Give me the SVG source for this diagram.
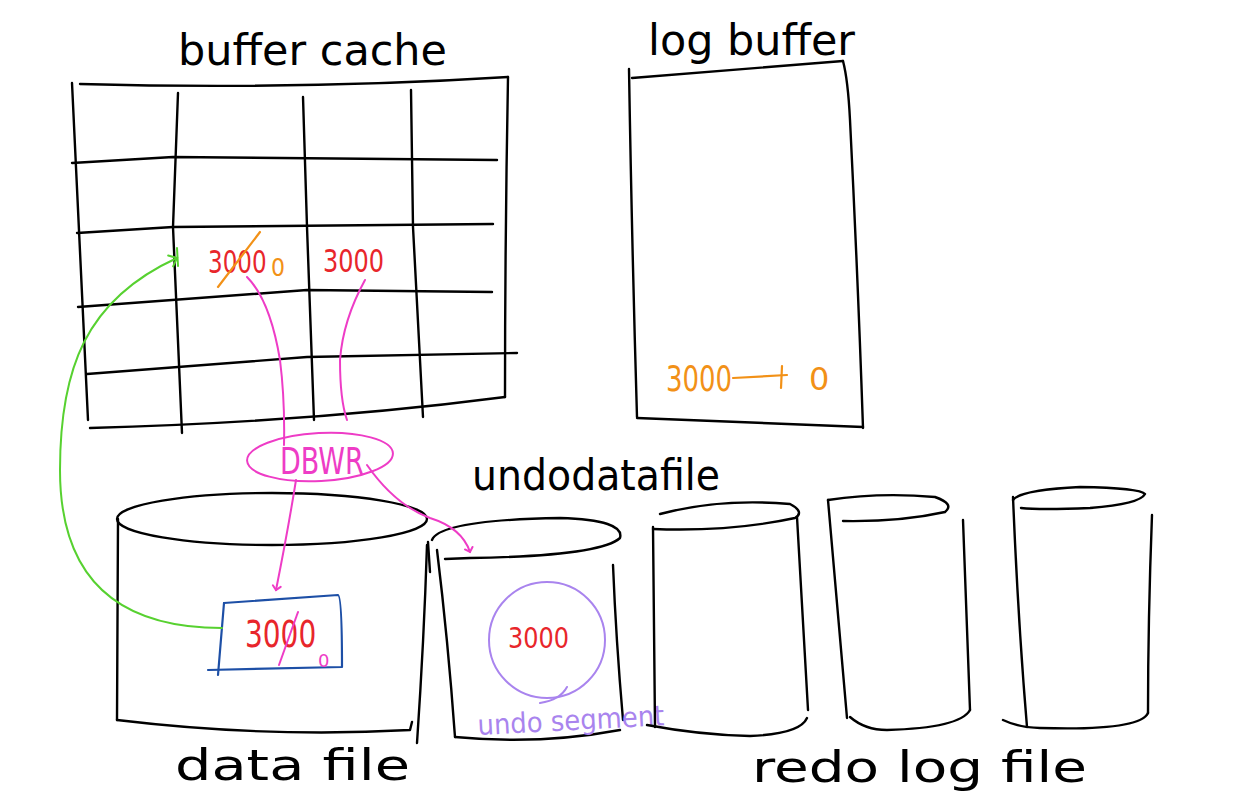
<svg xmlns="http://www.w3.org/2000/svg" width="1253" height="809" viewBox="0 0 1253 809">
<defs>
<style>
.ink{fill:none;stroke:#000;stroke-width:2.4;stroke-linecap:round;stroke-linejoin:round}
.pk{fill:none;stroke:#ee3cc6;stroke-width:2;stroke-linecap:round}
.gr{fill:none;stroke:#57d130;stroke-width:2;stroke-linecap:round}
.or{fill:none;stroke:#f29117;stroke-width:2.2;stroke-linecap:round}
.bl{fill:none;stroke:#1d4fa6;stroke-width:2.2;stroke-linecap:round;stroke-linejoin:round}
.pu{fill:none;stroke:#a984ee;stroke-width:2;stroke-linecap:round}
text{font-family:"DejaVu Sans","Liberation Sans",sans-serif;font-weight:normal}
.lbl{fill:#000;font-size:42px}
.red{fill:#e8262b}
.orange{fill:#f29117}
.pink{fill:#ee3cc6}
.purple{fill:#a984ee}
</style>
<marker id="tick" markerWidth="12" markerHeight="12" refX="6" refY="6" orient="auto" markerUnits="userSpaceOnUse">
<path d="M2,2 L6,6 L2,10" fill="none" stroke="#ee3cc6" stroke-width="2" stroke-linecap="round"/>
</marker>
<marker id="gtick" markerWidth="16" markerHeight="16" refX="10" refY="8" orient="auto" markerUnits="userSpaceOnUse">
<path d="M3,2 L10,8 L3,14" fill="none" stroke="#57d130" stroke-width="2" stroke-linecap="round"/>
</marker>
</defs>
<rect width="1253" height="809" fill="#fff"/>

<g id="buffer-cache">
<path class="ink" d="M80,84 Q300,90 508,77"/>
<path class="ink" d="M72,83 Q80,250 88,420"/>
<path class="ink" d="M508,77 Q505,240 505,397"/>
<path class="ink" d="M90,428 Q313,422 505,397"/>
<path class="ink" d="M72,163 L173,157 L497,160"/>
<path class="ink" d="M77,233 L173,227 L493,224"/>
<path class="ink" d="M78,307 L307,290 L492,292"/>
<path class="ink" d="M87,374 L307,357 L517,353"/>
<path class="ink" d="M178,93 L173,227 L182,433"/>
<path class="ink" d="M303,97 L307,227 L314,420"/>
<path class="ink" d="M411,90 L413,227 L423,417"/>
<text class="lbl" x="178" y="65" textLength="269" lengthAdjust="spacingAndGlyphs">buffer cache</text>
<text class="red" font-size="23" transform="translate(208,273) scale(1,1.4)">3000</text>
<path class="or" d="M218,287 L260,232"/>
<text class="orange" font-size="22" transform="translate(271,276) scale(1,1.15)">0</text>
<text class="red" font-size="24" transform="translate(323,272) scale(1,1.3)">3000</text>
</g>

<g id="log-buffer">
<path class="ink" d="M632,78 L843,61"/>
<path class="ink" d="M629,69 Q632,250 637,417"/>
<path class="ink" d="M843,61 Q848,80 850,120 Q858,280 863,428"/>
<path class="ink" d="M637,418 L863,427"/>
<text class="lbl" x="648" y="55" font-size="40" textLength="207" lengthAdjust="spacingAndGlyphs">log buffer</text>
<text class="orange" font-size="26" transform="translate(666,391) scale(1,1.35)">3000</text>
<path class="or" d="M733,378 L787,375"/>
<path class="or" d="M782,366 L781,388"/>
<text class="orange" x="809" y="390" font-size="32">0</text>
</g>

<g id="dbwr">
<ellipse cx="320" cy="457" rx="73" ry="24" transform="rotate(-3 320 457)" class="pk"/>
<text class="pink" font-size="27" transform="translate(280,474) scale(1,1.35)">DBWR</text>
</g>

<g id="data-file">
<ellipse cx="272" cy="519" rx="155" ry="26" class="ink"/>
<path class="ink" d="M118,519 L117,720"/>
<path class="ink" d="M427,545 Q424,640 417,743"/>
<path class="ink" d="M117,720 Q267,738 410,730 L412,722"/>
<path class="bl" d="M224,603 L338,595 Q342,596 342,667 L208,670"/>
<path class="bl" d="M224,603 L218,675"/>
<text class="red" font-size="28" transform="translate(245,647) scale(1,1.3)">3000</text>
<path class="pk" d="M298,612 L279,665"/>
<text class="pink" x="318" y="667" font-size="18">0</text>
<text class="lbl" x="175" y="780" font-size="44" textLength="235" lengthAdjust="spacingAndGlyphs">data file</text>
</g>

<g id="undo-datafile">
<text class="lbl" x="472" y="490" font-size="46" textLength="248" lengthAdjust="spacingAndGlyphs">undodatafile</text>
<path class="ink" d="M432,540 Q440,520 560,518 Q625,520 620,538 Q600,556 470,558 L445,559"/>
<path class="ink" d="M428,542 L430,572"/>
<path class="ink" d="M437,550 Q448,640 455,737"/>
<path class="ink" d="M613,565 Q616,640 623,720"/>
<path class="ink" d="M455,737 Q540,745 620,730"/>
<circle cx="547" cy="640" r="58" class="pu"/>
<path class="pu" d="M567,687 Q560,700 540,703"/>
<text class="red" font-size="24" transform="translate(508,648) scale(1,1.15)">3000</text>
<text class="purple" x="478" y="735" font-size="28" textLength="187" lengthAdjust="spacingAndGlyphs" transform="rotate(-3 478 735)">undo segment</text>
</g>

<g id="redo-log-1">
<path class="ink" d="M660,514 Q720,498 790,504 Q805,512 795,518 Q730,532 653,529"/>
<path class="ink" d="M653,527 L655,727"/>
<path class="ink" d="M797,517 Q803,620 808,710"/>
<path class="ink" d="M647,725 Q700,735 750,736 Q800,734 807,718"/>
</g>
<g id="redo-log-2">
<path class="ink" d="M828,500 Q880,492 935,497 Q955,504 945,512 Q900,522 843,521"/>
<path class="ink" d="M828,500 Q838,610 847,718"/>
<path class="ink" d="M963,520 Q967,620 970,710"/>
<path class="ink" d="M850,717 Q865,730 887,730 Q960,728 970,710"/>
</g>
<g id="redo-log-3">
<path class="ink" d="M1013,500 Q1020,490 1080,487 Q1140,488 1145,494 Q1140,504 1090,508 Q1040,510 1021,508"/>
<path class="ink" d="M1013,497 Q1018,620 1027,727"/>
<path class="ink" d="M1152,515 Q1148,620 1148,713"/>
<path class="ink" d="M1003,720 Q1020,728 1040,728 Q1140,731 1148,713"/>
<text class="lbl" x="752" y="782" font-size="44" textLength="335" lengthAdjust="spacingAndGlyphs">redo log file</text>
</g>

<g id="connectors">
<path class="gr" d="M222,628 C130,628 60,590 60,470 C60,370 85,300 177,258" marker-end="url(#gtick)"/>
<path class="gr" d="M177,248 L178,266"/>
<path class="pk" d="M247,277 Q270,300 280,360 Q285,400 284,445"/>
<path class="pk" d="M365,280 Q343,320 340,360 Q340,400 347,420"/>
<path class="pk" d="M296,480 Q288,530 276,590" marker-end="url(#tick)"/>
<path class="pk" d="M367,465 Q395,505 430,518 Q462,528 470,552" marker-end="url(#tick)"/>
</g>
</svg>
